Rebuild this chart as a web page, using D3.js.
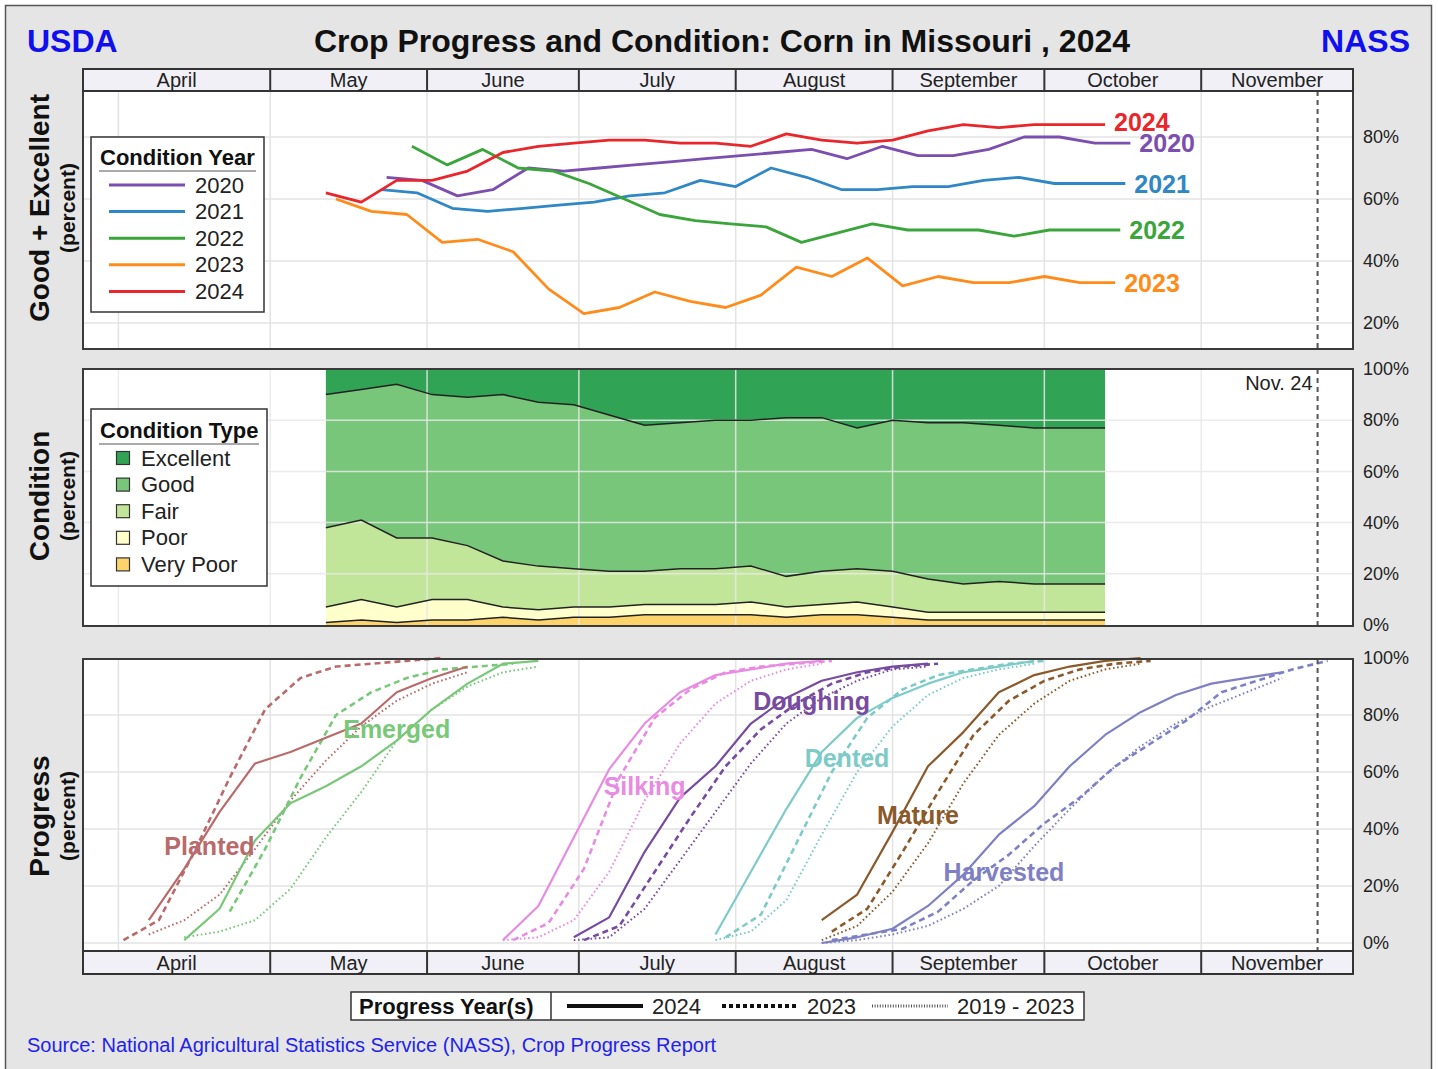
<!DOCTYPE html>
<html>
<head>
<meta charset="utf-8">
<script src="https://cdn.jsdelivr.net/npm/d3@7"></script>
<style>
  body { margin: 0; background: #fff; }
  svg { display: block; font-family: "Liberation Sans", Arial, sans-serif; }
</style>
</head>
<body>
<svg id="chart"></svg>
<script>
// month header cells
const months = ["April", "May", "June", "July", "August", "September", "October", "November"];

// good + excellent by condition year, weekly; first week given as month-day of that year
const conditionYears = [2020, 2021, 2022, 2023, 2024];
const geStart = ["05-24", "05-23", "05-29", "05-14", "05-12"];
const ge2020 = [67, 66, 61, 63, 70, 69, 70, 71, 72, 73, 74, 75, 76, 73, 77, 74, 74, 76, 80, 80, 78, 78];
const ge2021 = [63, 62, 57, 56, 57, 58, 59, 61, 62, 66, 64, 70, 67, 63, 63, 64, 64, 66, 67, 65, 65, 65];
const ge2022 = [77, 71, 76, 70, 69, 65, 60, 55, 53, 52, 51, 46, 49, 52, 50, 50, 50, 48, 50, 50, 50];
const ge2023 = [60, 56, 55, 46, 47, 43, 31, 23, 25, 30, 27, 25, 29, 38, 35, 41, 32, 35, 33, 33, 35, 33, 33];
const ge2024 = [62, 59, 66, 66, 69, 75, 77, 78, 79, 79, 78, 78, 77, 81, 79, 78, 79, 82, 84, 83, 84, 84, 84];
const geValues = [ge2020, ge2021, ge2022, ge2023, ge2024];

// 2024 condition by type, weekly from May 12
const conditionTypes = ["Excellent", "Good", "Fair", "Poor", "Very Poor"];
const conditionStart = "05-12";
const excellent = [10, 8, 6, 10, 11, 10, 13, 14, 18, 22, 21, 20, 20, 19, 19, 23, 20, 21, 21, 22, 23, 23, 23];
const good = [52, 51, 60, 56, 58, 65, 64, 64, 61, 57, 57, 58, 57, 62, 60, 55, 59, 61, 63, 61, 61, 61, 61];
const fair = [31, 31, 27, 24, 21, 18, 17, 15, 14, 13, 14, 14, 14, 12, 13, 13, 14, 13, 11, 12, 11, 11, 11];
const poor = [6, 8, 6, 8, 8, 4, 4, 4, 4, 4, 4, 4, 5, 4, 4, 5, 4, 3, 3, 3, 3, 3, 3];
const veryPoor = [1, 2, 1, 2, 2, 3, 2, 3, 3, 4, 4, 4, 4, 3, 4, 4, 3, 2, 2, 2, 2, 2, 2];

// progress by stage
const stages = ["Planted", "Emerged", "Silking", "Doughing", "Dented", "Mature", "Harvested"];
const start2024 = ["04-07", "04-14", "06-16", "06-30", "07-28", "08-18", "08-18"];
const start2023 = ["04-02", "04-23", "06-18", "07-02", "07-30", "08-20", "08-20"];
const startAvg = ["04-07", "04-14", "06-16", "06-30", "07-28", "08-18", "08-18"];
const progress2024 = [
    [8, 26, 46, 63, 67, 72, 77, 88, 93, 97],
    [1, 12, 36, 49, 55, 62, 71, 82, 91, 98, 99],
    [1, 13, 37, 61, 77, 88, 94, 96, 98, 99],
    [2, 9, 32, 51, 62, 77, 86, 92, 95, 97, 98],
    [3, 25, 47, 67, 79, 86, 91, 95, 97, 99],
    [8, 17, 39, 62, 74, 88, 94, 97, 99, 100],
    [0, 2, 5, 13, 24, 38, 48, 62, 73, 81, 87, 91, 93, 95]
];
const progress2023 = [
    [1, 8, 32, 58, 82, 93, 97, 98, 99, 100],
    [11, 33, 58, 80, 88, 93, 96, 97, 98],
    [1, 7, 26, 58, 79, 89, 95, 97, 98, 99],
    [1, 6, 25, 44, 62, 75, 84, 91, 95, 97, 98],
    [2, 10, 35, 60, 79, 89, 94, 96, 98, 99],
    [4, 12, 32, 53, 73, 85, 92, 96, 98, 99],
    [1, 3, 5, 11, 22, 31, 42, 51, 62, 70, 78, 88, 92, 96, 99]
];
const progressAvg = [
    [3, 8, 17, 33, 50, 64, 76, 85, 91, 95],
    [2, 4, 8, 19, 37, 53, 71, 82, 90, 95, 97],
    [1, 2, 8, 25, 50, 70, 84, 92, 96, 98],
    [1, 2, 12, 29, 46, 63, 77, 86, 92, 96, 97],
    [1, 4, 15, 38, 60, 76, 87, 93, 96, 98],
    [1, 6, 18, 35, 56, 73, 84, 92, 96, 98],
    [0, 1, 3, 6, 12, 20, 34, 47, 59, 69, 77, 83, 88, 93]
];
// where each stage name sits (date, percent)
const stageLabelDates = ["04-19", "05-26", "07-14", "08-16", "08-23", "09-06", "09-23"];
const stageLabelPcts = [34, 75, 55, 85, 65, 45, 25];

const reportDate = "11-24";

// styles
const yearColors = ["#7b4fb0", "#2f87c6", "#3aa53a", "#ff8c1a", "#e8262b"];
const typeColors = ["#31a354", "#78c679", "#c2e699", "#ffffcc", "#fdd46b"];
const stageColors = ["#b96b6b", "#79c879", "#e78be3", "#774b9f", "#7dcbc8", "#8b5a2b", "#7f80c4"];
const FONT = '"Liberation Sans", Arial, sans-serif';

//weekly dates of one year, put on the 2024 calendar
function weekDates(year, md, n) {
    const [m, d] = md.split("-").map(Number);
    const start = new Date(year, m - 1, d);
    return d3.range(n).map(i => {
        const dt = d3.timeDay.offset(start, 7 * i);
        return new Date(2024, dt.getMonth(), dt.getDate());
    });
}
function mdDate(md) {
    const [m, d] = md.split("-").map(Number);
    return new Date(2024, m - 1, d);
}

const width = 1438;
const height = 1069;
const left = 83, right = 1353;

const svg = d3.select("#chart").attr("width", width).attr("height", height);

svg.append("rect")
    .attr("x", 5.5).attr("y", 5.5)
    .attr("width", 1426).attr("height", 1070)
    .style("fill", "#e5e5e5")
    .style("stroke", "#555")
    .style("stroke-width", 1.5);

const x = d3.scaleTime()
    .domain([new Date(2024, 2, 25), new Date(2024, 11, 1)])
    .range([left, right]);
const monthStarts = months.map((m, i) => new Date(2024, 3 + i, 1));

//header texts
svg.append("text").attr("x", 27).attr("y", 52)
    .style("font-size", "32px").style("font-weight", "bold").style("fill", "#1010ee")
    .text("USDA");
svg.append("text").attr("x", 1410).attr("y", 52).attr("text-anchor", "end")
    .style("font-size", "32px").style("font-weight", "bold").style("fill", "#1010ee")
    .text("NASS");
svg.append("text").attr("x", 722).attr("y", 52).attr("text-anchor", "middle")
    .style("font-size", "32px").style("font-weight", "bold").style("fill", "#111")
    .text("Crop Progress and Condition: Corn in Missouri , 2024");

function drawPlotBg(y0, y1) {
    svg.append("rect").attr("x", left).attr("y", y0)
        .attr("width", right - left).attr("height", y1 - y0)
        .style("fill", "white");
}

function drawGrid(y, ticks, y0, y1, color) {
    const g = svg.append("g");
    g.selectAll("line.v").data(monthStarts).enter().append("line")
        .attr("x1", d => x(d)).attr("x2", d => x(d))
        .attr("y1", y0).attr("y2", y1)
        .style("stroke", color).style("stroke-width", 1.5);
    g.selectAll("line.h").data(ticks).enter().append("line")
        .attr("x1", left).attr("x2", right)
        .attr("y1", d => y(d)).attr("y2", d => y(d))
        .style("stroke", color).style("stroke-width", 1.5);
}

function drawRightAxis(y, ticks) {
    const axis = d3.axisRight(y)
        .tickValues(ticks)
        .tickSize(0)
        .tickPadding(10)
        .tickFormat(d => d + "%");
    const ag = svg.append("g").attr("transform", `translate(${right},0)`);
    axis(ag);
    ag.select(".domain").remove();
    ag.selectAll("text")
        .style("font-family", FONT)
        .style("font-size", "18px")
        .style("fill", "#222");
}

function drawReportLine(y0, y1) {
    svg.append("line")
        .attr("x1", x(mdDate(reportDate))).attr("x2", x(mdDate(reportDate)))
        .attr("y1", y0).attr("y2", y1)
        .style("stroke", "#555").style("stroke-width", 2)
        .style("stroke-dasharray", "5,4");
}

function drawFrame(y0, y1) {
    svg.append("rect").attr("x", left).attr("y", y0)
        .attr("width", right - left).attr("height", y1 - y0)
        .style("fill", "none").style("stroke", "#3a3a3a").style("stroke-width", 2);
}

function drawMonthStrip(y0, y1) {
    const edges = [left].concat(monthStarts.slice(1).map(d => x(d)), [right]);
    const g = svg.append("g");
    g.append("rect").attr("x", left).attr("y", y0)
        .attr("width", right - left).attr("height", y1 - y0)
        .style("fill", "#f0f0f6").style("stroke", "#333").style("stroke-width", 2);
    g.selectAll("line").data(edges.slice(1, -1)).enter().append("line")
        .attr("x1", d => d).attr("x2", d => d).attr("y1", y0).attr("y2", y1)
        .style("stroke", "#333").style("stroke-width", 2);
    g.selectAll("text").data(months).enter().append("text")
        .attr("x", (d, i) => (edges[i] + edges[i + 1]) / 2)
        .attr("y", (y0 + y1) / 2)
        .attr("text-anchor", "middle")
        .attr("dominant-baseline", "central")
        .style("font-size", "20px")
        .style("fill", "#222")
        .text(d => d);
}

function drawAxisTitle(cy, label) {
    svg.append("text")
        .attr("transform", `translate(49,${cy}) rotate(-90)`)
        .attr("text-anchor", "middle")
        .style("font-size", "28px").style("font-weight", "bold").style("fill", "#111")
        .text(label);
    svg.append("text")
        .attr("transform", `translate(75,${cy}) rotate(-90)`)
        .attr("text-anchor", "middle")
        .style("font-size", "21px").style("font-weight", "bold").style("fill", "#111")
        .text("(percent)");
}

// ---------- top: good + excellent ----------
const topY0 = 91, topY1 = 349;
const yTop = d3.scaleLinear().domain([20, 80]).range([323, 137]);

drawPlotBg(topY0, topY1);
drawGrid(yTop, [20, 40, 60, 80], topY0, topY1, "#e3e3e3");

const geLine = d3.line()
    .x(d => x(d.date))
    .y(d => yTop(d.value));

//2024 label sits a bit higher so it clears 2020
const labelNudge = [0, 0, 0, 0, -3];

conditionYears.forEach((yr, i) => {
    const dates = weekDates(yr, geStart[i], geValues[i].length);
    const pts = geValues[i].map((v, j) => ({ date: dates[j], value: v }));
    svg.append("path")
        .datum(pts)
        .attr("d", geLine)
        .style("fill", "none")
        .style("stroke", yearColors[i])
        .style("stroke-width", 2.8)
        .style("stroke-linejoin", "round");
    const last = pts[pts.length - 1];
    svg.append("text")
        .attr("x", x(last.date) + 9)
        .attr("y", yTop(last.value) + labelNudge[i])
        .attr("dominant-baseline", "central")
        .style("font-size", "25px").style("font-weight", "bold")
        .style("fill", yearColors[i])
        .text(yr);
});

drawReportLine(topY0, topY1);
drawFrame(69, topY1);
drawMonthStrip(69, topY0);
drawRightAxis(yTop, [20, 40, 60, 80]);
drawAxisTitle(208, "Good + Excellent");

//legend condition year
const lg1 = svg.append("g").attr("transform", "translate(91,137)");
lg1.append("rect").attr("width", 173).attr("height", 175)
    .style("fill", "white").style("stroke", "#333").style("stroke-width", 1.5);
lg1.append("text").attr("x", 9).attr("y", 28)
    .style("font-size", "22px").style("font-weight", "bold").style("fill", "#111")
    .text("Condition Year");
lg1.append("line").attr("x1", 8).attr("x2", 165).attr("y1", 34).attr("y2", 34)
    .style("stroke", "#aaa").style("stroke-width", 2);
conditionYears.forEach((yr, i) => {
    const cy = 48 + i * 26.6;
    lg1.append("line").attr("x1", 18).attr("x2", 94).attr("y1", cy).attr("y2", cy)
        .style("stroke", yearColors[i]).style("stroke-width", 3);
    lg1.append("text").attr("x", 104).attr("y", cy)
        .attr("dominant-baseline", "central")
        .style("font-size", "22px").style("fill", "#222")
        .text(yr);
});

// ---------- middle: condition ----------
const midY0 = 369, midY1 = 626;
const yMid = d3.scaleLinear().domain([0, 100]).range([625, 369]);

drawPlotBg(midY0, midY1);

const condDates = weekDates(2024, conditionStart, excellent.length);
const condRows = condDates.map((d, i) => ({
    date: d,
    "Very Poor": veryPoor[i],
    "Poor": poor[i],
    "Fair": fair[i],
    "Good": good[i],
    "Excellent": excellent[i]
}));
const stackKeys = conditionTypes.slice().reverse();
const stacked = d3.stack().keys(stackKeys)(condRows);

const area = d3.area()
    .x(d => x(d.data.date))
    .y0(d => yMid(d[0]))
    .y1(d => yMid(d[1]));

svg.selectAll("path.cond")
    .data(stacked)
    .enter()
    .append("path")
    .attr("class", "cond")
    .attr("d", area)
    .style("fill", d => typeColors[conditionTypes.indexOf(d.key)]);

drawGrid(yMid, [20, 40, 60, 80], midY0, midY1, "rgba(232,232,232,0.85)");

const topLine = d3.line()
    .x(d => x(d.data.date))
    .y(d => yMid(d[1]));
svg.selectAll("path.bound")
    .data(stacked.slice(0, 4))
    .enter()
    .append("path")
    .attr("class", "bound")
    .attr("d", topLine)
    .style("fill", "none")
    .style("stroke", "#222")
    .style("stroke-width", 1.5);

drawReportLine(midY0, midY1);
svg.append("text")
    .attr("x", x(mdDate(reportDate)) - 5).attr("y", 383)
    .attr("text-anchor", "end").attr("dominant-baseline", "central")
    .style("font-size", "20px").style("fill", "#222")
    .text("Nov. 24");
drawFrame(midY0, midY1);
drawRightAxis(yMid, [0, 20, 40, 60, 80, 100]);
drawAxisTitle(496, "Condition");

//legend condition type
const lg2 = svg.append("g").attr("transform", "translate(91,409)");
lg2.append("rect").attr("width", 176).attr("height", 177)
    .style("fill", "white").style("stroke", "#333").style("stroke-width", 1.5);
lg2.append("text").attr("x", 9).attr("y", 29)
    .style("font-size", "22px").style("font-weight", "bold").style("fill", "#111")
    .text("Condition Type");
lg2.append("line").attr("x1", 8).attr("x2", 168).attr("y1", 35).attr("y2", 35)
    .style("stroke", "#aaa").style("stroke-width", 2);
conditionTypes.forEach((t, i) => {
    const cy = 49 + i * 26.6;
    lg2.append("rect").attr("x", 25.5).attr("y", cy - 6.5).attr("width", 13).attr("height", 13)
        .style("fill", typeColors[i]).style("stroke", "#333").style("stroke-width", 1.2);
    lg2.append("text").attr("x", 50).attr("y", cy)
        .attr("dominant-baseline", "central")
        .style("font-size", "22px").style("fill", "#222")
        .text(t);
});

// ---------- bottom: progress ----------
const botY0 = 659, botY1 = 951;
const yProg = d3.scaleLinear().domain([0, 100]).range([943, 658]);

drawPlotBg(botY0, botY1);
drawGrid(yProg, [0, 20, 40, 60, 80, 100], botY0, botY1, "#e3e3e3");

const progLine = d3.line()
    .x(d => x(d.date))
    .y(d => yProg(d.value));

const lineStyles = [
    { set: progressAvg, starts: startAvg, year: 2024, dash: "1.6,2.6", w: 2 },
    { set: progress2023, starts: start2023, year: 2023, dash: "6,4", w: 2.6 },
    { set: progress2024, starts: start2024, year: 2024, dash: null, w: 2.2 }
];

lineStyles.forEach(s => {
    stages.forEach((st, i) => {
        const vals = s.set[i];
        const dates = weekDates(s.year, s.starts[i], vals.length);
        const pts = vals.map((v, j) => ({ date: dates[j], value: v }));
        svg.append("path")
            .datum(pts)
            .attr("d", progLine)
            .style("fill", "none")
            .style("stroke", stageColors[i])
            .style("stroke-width", s.w)
            .style("stroke-dasharray", s.dash)
            .style("stroke-linejoin", "round");
    });
});

//stage names
svg.selectAll("text.stage")
    .data(stages)
    .enter()
    .append("text")
    .attr("class", "stage")
    .attr("x", (d, i) => x(mdDate(stageLabelDates[i])))
    .attr("y", (d, i) => yProg(stageLabelPcts[i]))
    .attr("text-anchor", "middle")
    .attr("dominant-baseline", "central")
    .style("font-size", "25px")
    .style("font-weight", "bold")
    .style("fill", (d, i) => stageColors[i])
    .text(d => d);

drawReportLine(botY0, botY1);
drawFrame(botY0, 974);
drawMonthStrip(botY1, 974);
drawRightAxis(yProg, [0, 20, 40, 60, 80, 100]);
drawAxisTitle(816, "Progress");

//legend progress years
const lg3 = svg.append("g").attr("transform", "translate(351,992)");
lg3.append("rect").attr("width", 733).attr("height", 28)
    .style("fill", "white").style("stroke", "#333").style("stroke-width", 1.5);
lg3.append("line").attr("x1", 200).attr("x2", 200).attr("y1", 0).attr("y2", 28)
    .style("stroke", "#333").style("stroke-width", 1.5);
lg3.append("text").attr("x", 8).attr("y", 14).attr("dominant-baseline", "central")
    .style("font-size", "22px").style("font-weight", "bold").style("fill", "#111")
    .text("Progress Year(s)");
const legendYears = ["2024", "2023", "2019 - 2023"];
const legendDash = [null, "4,3", "1,1.6"];
const legendX = [216, 371, 521];
legendYears.forEach((t, i) => {
    lg3.append("line").attr("x1", legendX[i]).attr("x2", legendX[i] + 76)
        .attr("y1", 14).attr("y2", 14)
        .style("stroke", i === 2 ? "#555" : "#111")
        .style("stroke-width", i === 2 ? 3 : 4)
        .style("stroke-dasharray", legendDash[i]);
    lg3.append("text").attr("x", legendX[i] + 85).attr("y", 14)
        .attr("dominant-baseline", "central")
        .style("font-size", "22px").style("fill", "#222")
        .text(t);
});

svg.append("text")
    .attr("x", 27).attr("y", 1045)
    .attr("dominant-baseline", "central")
    .style("font-size", "20px").style("fill", "#2222f0")
    .text("Source: National Agricultural Statistics Service (NASS), Crop Progress Report");
</script>
</body>
</html>
